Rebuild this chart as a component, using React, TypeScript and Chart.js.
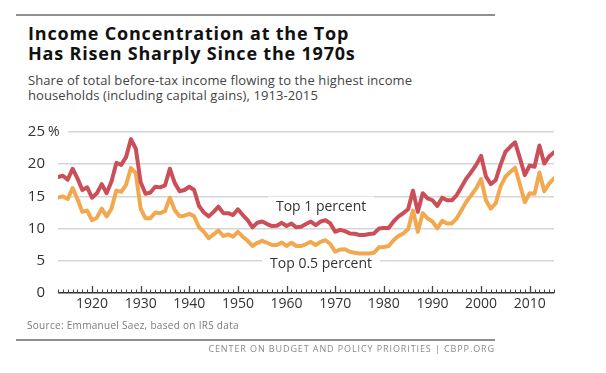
import React, { useEffect, useRef } from "react";
import { Chart, registerables } from "chart.js";

Chart.register(...registerables);

const START_YEAR = 1913;
const END_YEAR = 2015;
const DECADE_TICKS = [1920, 1930, 1940, 1950, 1960, 1970, 1980, 1990, 2000, 2010];
const Y_TICKS = [0, 5, 10, 15, 20, 25];

const TOP_1_PERCENT = [
  18.0, 18.2, 17.6, 19.3, 17.8, 16.0, 16.4, 14.8, 15.5, 16.9,
  15.5, 17.3, 20.2, 19.9, 21.1, 23.9, 22.4, 17.2, 15.4, 15.6,
  16.5, 16.4, 16.7, 19.3, 17.1, 15.8, 16.0, 16.5, 16.0, 13.5,
  12.5, 11.9, 12.6, 13.4, 12.4, 12.4, 12.1, 13.0, 12.1, 11.3,
  10.2, 10.9, 11.1, 10.7, 10.4, 10.45, 10.9, 10.4, 10.8, 10.2,
  10.3, 10.7, 11.1, 10.55, 11.1, 11.3, 10.8, 9.5, 9.8, 9.6,
  9.25, 9.2, 9.0, 9.0, 9.15, 9.25, 10.0, 10.1, 10.1, 11.1,
  11.85, 12.4, 13.0, 15.9, 12.6, 15.5, 14.7, 14.4, 13.5, 14.8,
  14.4, 14.4, 15.2, 16.5, 17.8, 18.8, 19.9, 21.3, 18.1, 16.9,
  17.5, 19.9, 21.9, 22.7, 23.4, 20.9, 18.3, 19.8, 19.6, 22.9,
  20.1, 21.2, 21.85,
];

const TOP_HALF_PERCENT = [
  14.8, 15.0, 14.6, 16.3, 14.6, 12.6, 12.8, 11.3, 11.7, 13.1,
  11.9, 13.1, 15.9, 15.7, 16.8, 19.4, 18.6, 13.1, 11.6, 11.6,
  12.5, 12.4, 12.7, 14.8, 12.9, 11.9, 12.0, 12.3, 11.9, 10.2,
  9.5, 8.5, 9.1, 9.7, 8.85, 9.1, 8.75, 9.5, 8.75, 8.1,
  7.3, 7.8, 8.1, 7.8, 7.45, 7.45, 7.85, 7.3, 7.8, 7.3,
  7.3, 7.6, 7.95, 7.45, 7.95, 8.2, 7.6, 6.4, 6.75, 6.8,
  6.4, 6.25, 6.15, 6.15, 6.15, 6.25, 7.1, 7.15, 7.3, 8.2,
  8.85, 9.25, 9.9, 12.8, 9.5, 12.4, 11.6, 11.1, 10.05, 11.2,
  10.8, 10.8, 11.6, 12.9, 14.2, 15.2, 16.25, 17.7, 14.4, 13.1,
  13.9, 16.5, 18.05, 18.8, 19.45, 16.8, 14.1, 15.5, 15.4, 18.7,
  15.8, 17.0, 17.8,
];

const SERIES_LABELS = [
  { text: "Top 1 percent", year: 1967.1, value: 13.4 },
  { text: "Top 0.5 percent", year: 1967.1, value: 4.55 },
];

const RED = "#cb4f58";
const ORANGE = "#f2a84f";
const FONT = "'Open Sans', Lato, sans-serif";

const decorPlugin = {
  id: "decor",
  beforeDatasetsDraw(chart: any) {
    const { ctx, scales } = chart;
    const x = scales.x;
    const y = scales.y;
    ctx.save();
    ctx.font = `14px ${FONT}`;
    ctx.textAlign = "center";
    ctx.textBaseline = "middle";
    SERIES_LABELS.forEach((l) => {
      const px = x.getPixelForValue(l.year);
      const py = y.getPixelForValue(l.value);
      const w = ctx.measureText(l.text).width;
      ctx.fillStyle = "#ffffff";
      ctx.fillRect(px - w / 2 - 8, py - 10, w + 16, 20);
      ctx.fillStyle = "#333333";
      ctx.fillText(l.text, px, py);
    });
    ctx.restore();
  },
  afterDraw(chart: any) {
    const { ctx, scales } = chart;
    const x = scales.x;
    const y = scales.y;
    const base = y.getPixelForValue(0);
    ctx.save();
    ctx.strokeStyle = "#444444";
    for (let yr = START_YEAR; yr <= END_YEAR; yr++) {
      const px = Math.round(x.getPixelForValue(yr)) + 0.5;
      const major = yr % 10 === 0;
      ctx.lineWidth = major ? 1.3 : 1;
      ctx.beginPath();
      ctx.moveTo(px, base);
      ctx.lineTo(px, base - (major ? 7 : 3.5));
      ctx.stroke();
    }
    const p25 = y.getPixelForValue(25);
    ctx.fillStyle = "#ffffff";
    ctx.fillRect(x.left - 12, p25 - 3, 22, 6);
    ctx.fillStyle = "#333333";
    ctx.font = `14px ${FONT}`;
    ctx.textAlign = "left";
    ctx.textBaseline = "middle";
    ctx.fillText("%", x.left - 10, p25);
    ctx.restore();
  },
};

export default function App() {
  const ref = useRef<HTMLCanvasElement>(null);

  useEffect(() => {
    if (!ref.current) return;
    const years = TOP_1_PERCENT.map((_, i) => START_YEAR + i);
    const chart = new Chart(ref.current, {
      type: "line",
      data: {
        datasets: [
          {
            label: "Top 1 percent",
            data: years.map((yr, i) => ({ x: yr, y: TOP_1_PERCENT[i] })),
            borderColor: RED,
            borderWidth: 4,
            pointRadius: 0,
            tension: 0,
            borderJoinStyle: "round",
            borderCapStyle: "round",
          },
          {
            label: "Top 0.5 percent",
            data: years.map((yr, i) => ({ x: yr, y: TOP_HALF_PERCENT[i] })),
            borderColor: ORANGE,
            borderWidth: 4,
            pointRadius: 0,
            tension: 0,
            borderJoinStyle: "round",
            borderCapStyle: "round",
          },
        ],
      },
      options: {
        animation: false,
        responsive: false,
        devicePixelRatio: 1,
        layout: { padding: { left: 0, right: 52, top: 22, bottom: 7 } },
        plugins: {
          legend: { display: false },
          tooltip: { enabled: false },
        },
        scales: {
          x: {
            type: "linear",
            min: START_YEAR,
            max: END_YEAR,
            afterBuildTicks: (s: any) => {
              s.ticks = DECADE_TICKS.map((v) => ({ value: v }));
            },
            afterFit: (s: any) => {
              s.height = 20;
            },
            grid: { display: false, drawTicks: false },
            border: { display: false },
            ticks: {
              autoSkip: false,
              maxRotation: 0,
              padding: 3,
              color: "#333333",
              font: { family: FONT, size: 14 },
              callback: (v: any) => String(v),
            },
          },
          y: {
            min: 0,
            max: 25,
            afterBuildTicks: (s: any) => {
              s.ticks = Y_TICKS.map((v) => ({ value: v }));
            },
            afterFit: (s: any) => {
              s.width = 58;
            },
            border: { display: false },
            grid: {
              drawTicks: false,
              color: (c: any) => (c.tick && c.tick.value === 0 ? "#333333" : "#d6d6d6"),
              lineWidth: 1.5,
            },
            ticks: {
              padding: 13,
              color: "#333333",
              font: { family: FONT, size: 15 },
              callback: (v: any) => String(v),
            },
          },
        },
      },
      plugins: [decorPlugin],
    } as any);
    return () => chart.destroy();
  }, []);

  const rule: React.CSSProperties = {
    position: "absolute",
    left: 16,
    width: 479,
    height: 2,
    background: "#8f8f8f",
  };

  return (
    <div
      style={{
        position: "fixed",
        left: 0,
        top: 0,
        width: 606,
        height: 373,
        background: "#ffffff",
        overflow: "hidden",
        fontFamily: FONT,
      }}
    >
      <div style={{ ...rule, top: 14 }} />
      <div
        style={{
          position: "absolute",
          left: 28,
          top: 23,
          fontSize: 18,
          lineHeight: "20px",
          fontWeight: 700,
          letterSpacing: 0.8,
          color: "#111111",
          whiteSpace: "nowrap",
        }}
      >
        <div>Income Concentration at the Top</div>
        <div>Has Risen Sharply Since the 1970s</div>
      </div>
      <div
        style={{
          position: "absolute",
          left: 28,
          top: 73,
          fontSize: 13,
          lineHeight: "14.5px",
          letterSpacing: 0.1,
          color: "#444444",
          whiteSpace: "nowrap",
        }}
      >
        <div>Share of total before-tax income flowing to the highest income</div>
        <div>households (including capital gains), 1913-2015</div>
      </div>
      <canvas
        ref={ref}
        width={606}
        height={210}
        style={{ position: "absolute", left: 0, top: 110, width: 606, height: 210 }}
      />
      <div
        style={{
          position: "absolute",
          left: 27,
          top: 318,
          fontSize: 10,
          letterSpacing: 0.3,
          color: "#7a7a7a",
          whiteSpace: "nowrap",
        }}
      >
        Source: Emmanuel Saez, based on IRS data
      </div>
      <div style={{ ...rule, top: 339 }} />
      <div
        style={{
          position: "absolute",
          right: 606 - 495,
          top: 342,
          fontSize: 9,
          letterSpacing: 0.9,
          color: "#8a8a8a",
          whiteSpace: "nowrap",
        }}
      >
        CENTER ON BUDGET AND POLICY PRIORITIES | CBPP.ORG
      </div>
    </div>
  );
}
